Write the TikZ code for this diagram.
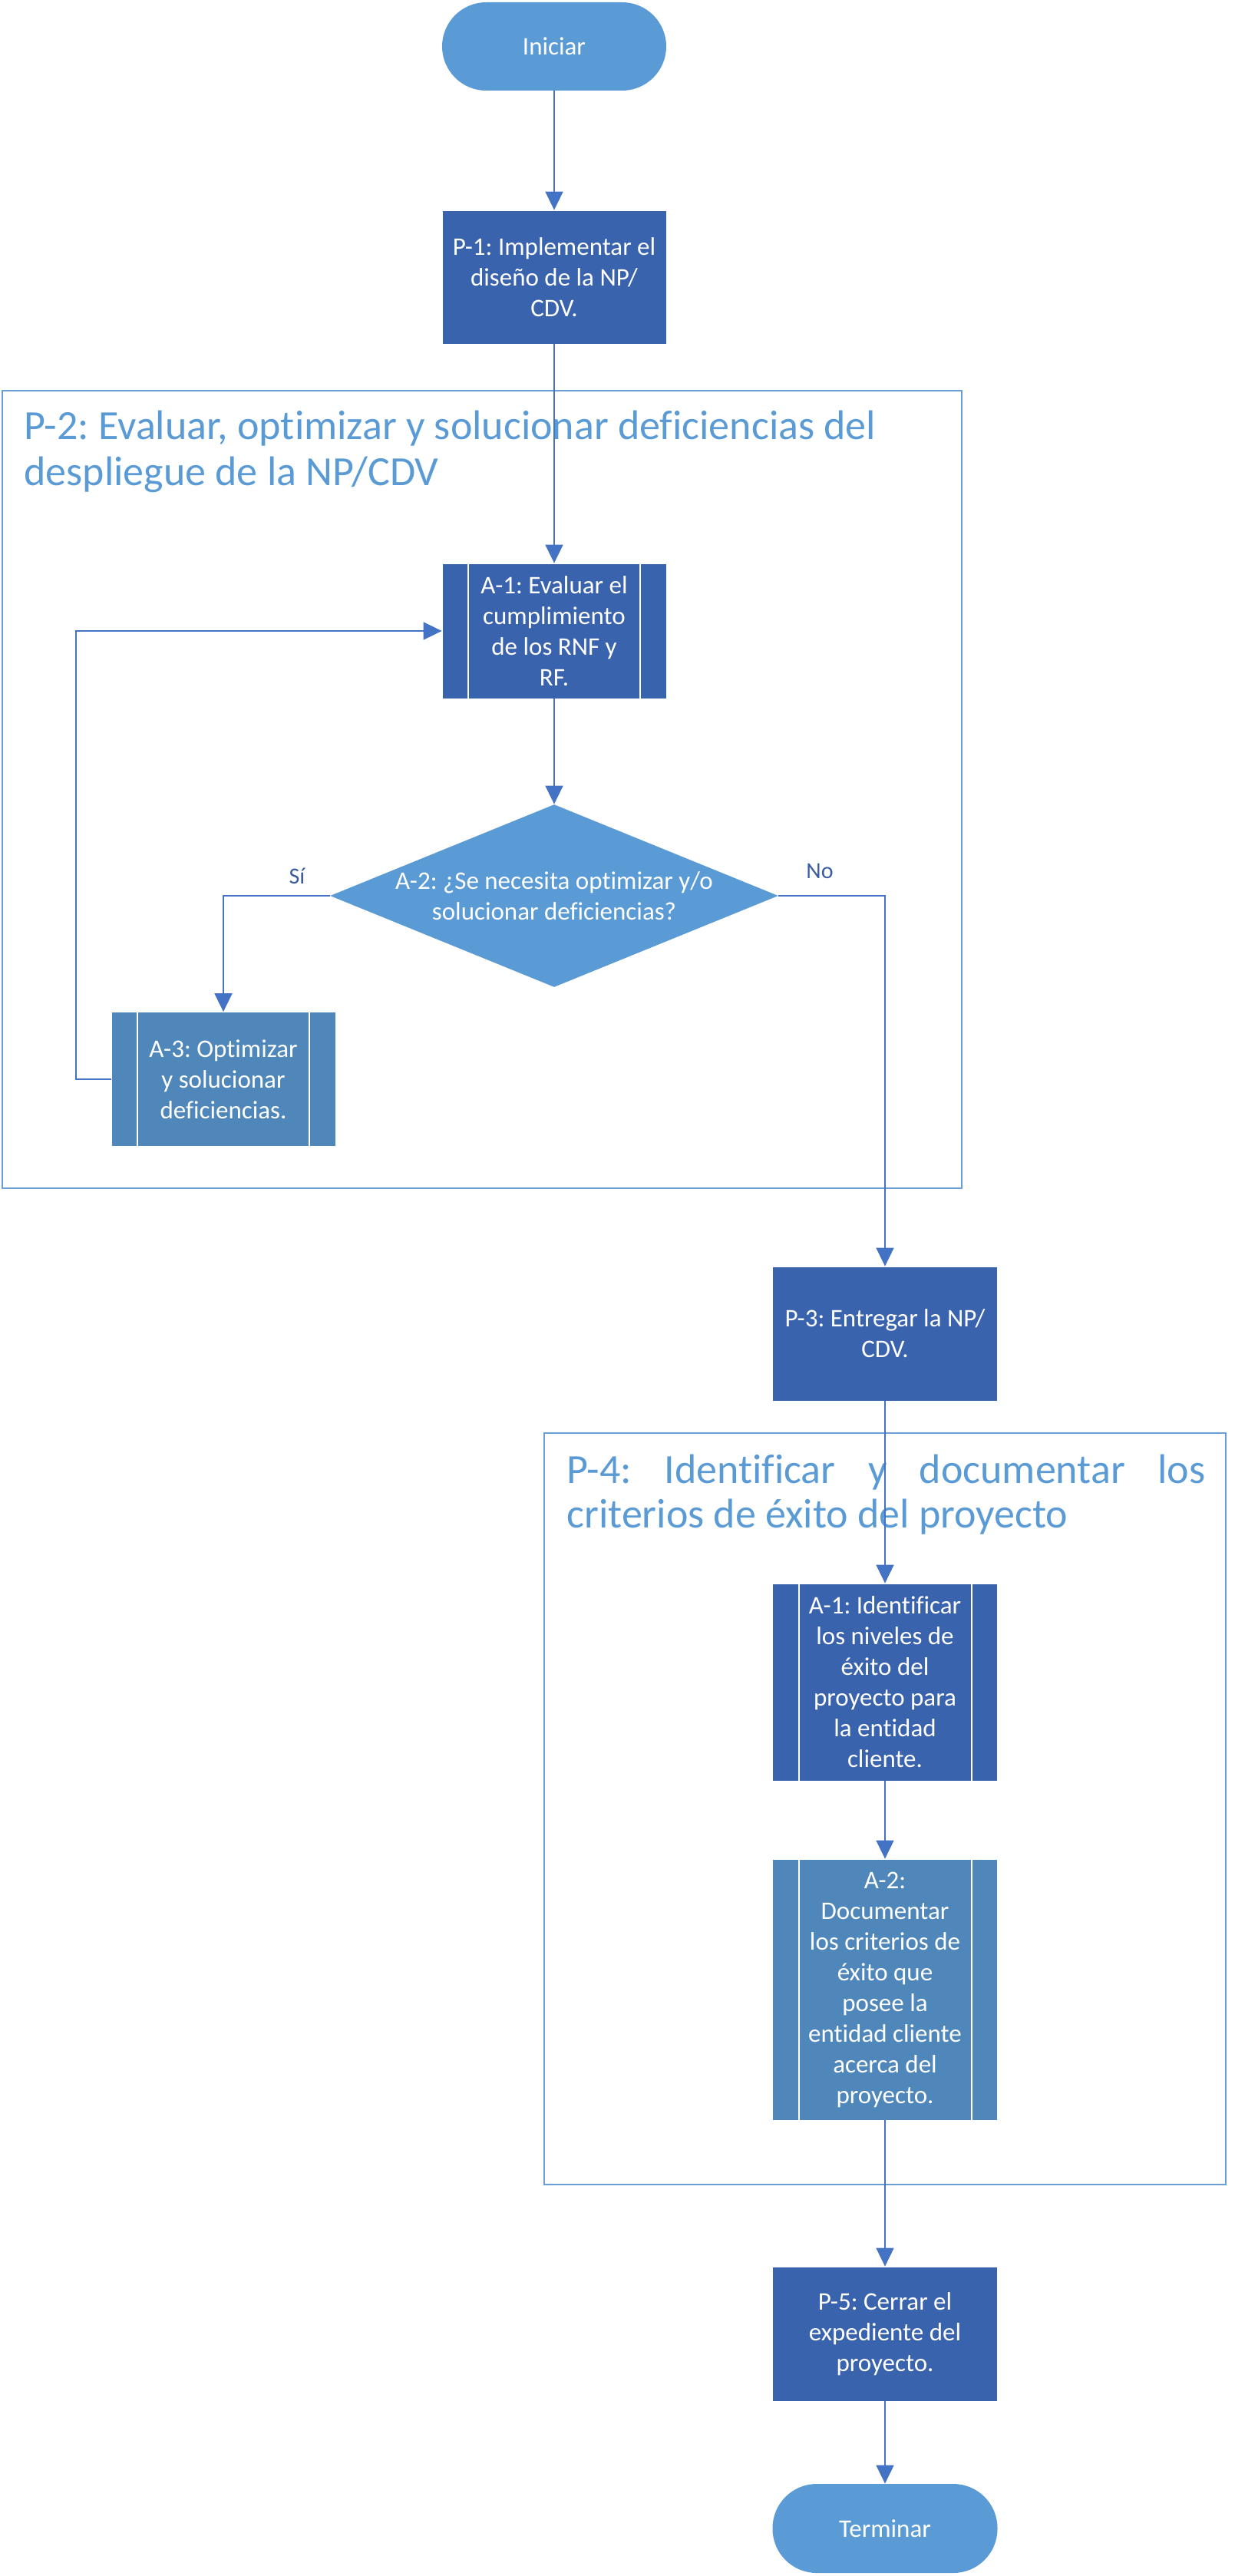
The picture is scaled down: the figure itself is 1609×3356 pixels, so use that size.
\documentclass[tikz,border=0pt]{standalone}
\usepackage{fontspec}
\setmainfont{Carlito}[Ligatures=NoCommon]
\usetikzlibrary{arrows.meta,shapes.geometric}
\definecolor{lblue}{HTML}{5B9BD5}
\definecolor{dblue}{HTML}{3A63AD}
\definecolor{mblue}{HTML}{4F87BB}
\definecolor{cblue}{HTML}{4472C4}
\definecolor{tblue}{HTML}{3B5BA5}
\definecolor{frame}{HTML}{6A9FD6}
\tikzset{
  boxtext/.style={font=\fontsize{16.5}{20}\selectfont, text=white, align=center, inner sep=0pt},
  proc/.style={boxtext, rectangle, fill=dblue, draw=white, line width=0.4pt},
  subproc/.style={proc, path picture={
     \draw[white, line width=1pt] ([xshift=17pt]path picture bounding box.north west) -- ([xshift=17pt]path picture bounding box.south west);
     \draw[white, line width=1pt] ([xshift=-17pt]path picture bounding box.north east) -- ([xshift=-17pt]path picture bounding box.south east);}},
  terminal/.style={boxtext, rectangle, fill=lblue, rounded corners=28.75pt},
  decision/.style={diamond, fill=lblue, inner sep=0pt, aspect=2.45},
  conn/.style={draw=cblue, line width=0.9pt, -{Triangle[length=12pt,width=11.5pt]}},
  container/.style={draw=frame, line width=1.1pt},
  titletext/.style={font=\fontsize{27}{30}\selectfont, text=lblue, inner sep=0pt, anchor=base west},
  lbl/.style={font=\fontsize{15}{18}\selectfont, text=tblue, inner sep=0pt, anchor=base}
}
\begin{document}
\frenchspacing
\begin{tikzpicture}[x=0.5pt,y=-0.5pt]
\useasboundingbox (0,0) rectangle (1609,3356);
% containers
\draw[container] (3,509) rectangle (1253,1548);
\draw[container] (709,1867) rectangle (1597,2846);
\node[titletext] (t2a) at (31,572) {P-2: Evaluar, optimizar y solucionar deficiencias del};
\node[titletext] (t2b) at (31,632) {despliegue de la NP/CDV};
\node[titletext] (t4a) at (738,1932) {\makebox[416pt][s]{P-4: Identificar y documentar los}};
\node[titletext] (t4b) at (738,1990) {criterios de éxito del proyecto};
% nodes
\node[terminal, minimum width=146pt, minimum height=57.5pt] (start) at (722,60.5) {Iniciar};
\node[proc, minimum width=146pt, minimum height=87pt] (p1) at (722,361) {P-1: Implementar el\\diseño de la NP/\\CDV.};
\node[subproc, minimum width=146pt, minimum height=88pt] (a1) at (722,822) {A-1: Evaluar el\\cumplimiento\\de los RNF y\\RF.};
\node[decision, minimum width=292pt, minimum height=119pt] (dec) at (722,1167) {};
\node[boxtext] (dectext) at (722,1167) {A-2: ¿Se necesita optimizar y/o\\solucionar deficiencias?};
\node[subproc, fill=mblue, minimum width=146pt, minimum height=87.5pt] (a3) at (291,1406) {A-3: Optimizar\\y solucionar\\deficiencias.};
\node[proc, minimum width=146.5pt, minimum height=87.5pt] (p3) at (1153,1737.5) {P-3: Entregar la NP/\\CDV.};
\node[subproc, minimum width=146.5pt, minimum height=128.5pt] (b1) at (1153,2191.5) {A-1: Identificar\\los niveles de\\éxito del\\proyecto para\\la entidad\\cliente.};
\node[subproc, fill=mblue, minimum width=146.5pt, minimum height=170pt] (b2) at (1153,2592) {A-2:\\Documentar\\los criterios de\\éxito que\\posee la\\entidad cliente\\acerca del\\proyecto.};
\node[proc, minimum width=146.5pt, minimum height=87.5pt] (p5) at (1153,3040.5) {P-5: Cerrar el\\expediente del\\proyecto.};
\node[terminal, minimum width=146.5pt, minimum height=58pt] (end) at (1153,3294) {Terminar};
% connectors
\draw[conn] (start) -- (p1);
\draw[conn] (p1) -- (a1);
\draw[conn] (a1) -- (dec);
\draw[conn] (dec.west) -| (a3.north);
\draw[conn] (a3.west) -- ++(-23pt,0) |- (a1.west);
\draw[conn] (dec.east) -| (p3.north);
\draw[conn] (p3) -- (b1);
\draw[conn] (b1) -- (b2);
\draw[conn] (b2) -- (p5);
\draw[conn] (p5) -- (end);
% labels
\node[lbl] (si) at (387,1151) {Sí};
\node[lbl] (no) at (1068,1144) {No};
\end{tikzpicture}
\end{document}
